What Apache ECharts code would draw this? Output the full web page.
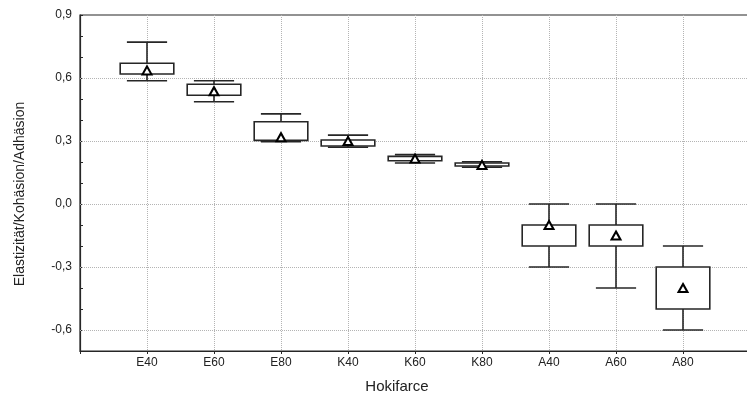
<!DOCTYPE html>
<html>
<head>
<meta charset="utf-8">
<script src="https://cdn.jsdelivr.net/npm/echarts@6/dist/echarts.min.js"></script>
<style>
  html, body { margin: 0; padding: 0; background: #fff; }
  #chart { width: 747px; height: 399px; }
</style>
</head>
<body>
<div id="chart"></div>
<script>
// groups on the x axis
const categories = ['E40', 'E60', 'E80', 'K40', 'K60', 'K80', 'A40', 'A60', 'A80'];
// box plot values
const whiskerLow  = [0.587, 0.487, 0.297, 0.270, 0.195, 0.175, -0.30, -0.40, -0.60];
const boxLow      = [0.619, 0.518, 0.303, 0.276, 0.206, 0.181, -0.20, -0.20, -0.50];
const boxHigh     = [0.670, 0.570, 0.392, 0.305, 0.227, 0.195, -0.10, -0.10, -0.30];
const whiskerHigh = [0.771, 0.587, 0.429, 0.328, 0.235, 0.201, 0.00, 0.00, -0.20];
const means       = [0.636, 0.537, 0.318, 0.300, 0.216, 0.186, -0.10, -0.15, -0.40];
// labelled y ticks
const yTicks = [-0.6, -0.3, 0.0, 0.3, 0.6, 0.9];

let lineColor = '#262626';
let gridColor = '#b4b4b4';

let chart = echarts.init(document.getElementById('chart'));

function fmt(v) {
    let r = Math.round(v * 10) / 10;
    if (r === 0) r = 0;
    return r.toFixed(1).replace('.', ',');
}

function renderBox(params, api) {
    let x = api.value(0);
    let lo = api.coord([x, api.value(1)]);
    let q1 = api.coord([x, api.value(2)]);
    let q3 = api.coord([x, api.value(3)]);
    let hi = api.coord([x, api.value(4)]);
    let band = api.size([1, 0])[0];
    let bw = band * 0.8;
    let cw = band * 0.6;
    let cx = lo[0];
    let st = {stroke: lineColor, lineWidth: 1.6, fill: null};
    return {
        type: 'group',
        children: [
            {type: 'line', shape: {x1: cx, y1: q1[1], x2: cx, y2: lo[1]}, style: st},
            {type: 'line', shape: {x1: cx, y1: q3[1], x2: cx, y2: hi[1]}, style: st},
            {type: 'line', shape: {x1: cx - cw / 2, y1: lo[1], x2: cx + cw / 2, y2: lo[1]}, style: st},
            {type: 'line', shape: {x1: cx - cw / 2, y1: hi[1], x2: cx + cw / 2, y2: hi[1]}, style: st},
            {type: 'rect', shape: {x: cx - bw / 2, y: q3[1], width: bw, height: q1[1] - q3[1]},
                style: {stroke: lineColor, lineWidth: 1.6, fill: '#fff'}}
        ]
    };
}

let boxData = categories.map(function (c, k) {
    return [k + 1, whiskerLow[k], boxLow[k], boxHigh[k], whiskerHigh[k]];
});
let meanData = means.map(function (m, k) {
    return [k + 1, m];
});

let option = {
    animation: false,
    grid: {
        left: 80,
        top: 15,
        width: 670,
        bottom: 48,
        outerBoundsMode: 'none',
        show: true,
        borderColor: lineColor,
        borderWidth: 1.2,
        backgroundColor: 'transparent'
    },
    xAxis: {
        type: 'value',
        min: 0,
        max: 10,
        interval: 1,
        name: 'Hokifarce',
        nameLocation: 'middle',
        nameGap: 28,
        nameTextStyle: {
            fontFamily: 'Liberation Sans',
            fontSize: 15,
            color: '#222',
            padding: [0, 36, 0, 0]
        },
        axisLine: {onZero: false, lineStyle: {color: lineColor, width: 1.2}},
        axisTick: {show: true, length: 3, lineStyle: {color: lineColor}},
        axisLabel: {
            margin: 6,
            fontFamily: 'Liberation Sans',
            fontSize: 12,
            color: '#222',
            formatter: function (v) {
                return categories[v - 1] || '';
            }
        },
        splitLine: {show: true, lineStyle: {color: gridColor, type: 'dotted', width: 1}}
    },
    yAxis: {
        type: 'value',
        min: -0.7,
        max: 0.9,
        interval: 0.1,
        name: 'Elastizität/Kohäsion/Adhäsion',
        nameLocation: 'middle',
        nameGap: 53,
        nameTextStyle: {
            fontFamily: 'Liberation Sans',
            fontSize: 14,
            color: '#222',
            padding: [0, 22, 0, 0]
        },
        axisLine: {show: true, onZero: false, lineStyle: {color: lineColor, width: 1.2}},
        axisTick: {show: true, inside: true, length: 3, lineStyle: {color: lineColor}},
        axisLabel: {
            margin: 8,
            fontFamily: 'Liberation Sans',
            fontSize: 12,
            color: '#222',
            formatter: function (v) {
                let r = Math.round(v * 10);
                return r % 3 === 0 ? fmt(v) : '';
            }
        },
        splitLine: {show: false}
    },
    series: [
        {
            type: 'custom',
            z: 3,
            renderItem: renderBox,
            encode: {x: 0, y: [1, 2, 3, 4]},
            data: boxData
        },
        {
            type: 'scatter',
            z: 4,
            symbol: 'triangle',
            symbolSize: [9, 8],
            itemStyle: {color: '#fff', borderColor: '#000', borderWidth: 2, opacity: 1},
            data: meanData,
            markLine: {
                silent: true,
                z: 1,
                symbol: 'none',
                label: {show: false},
                lineStyle: {color: gridColor, type: 'dotted', width: 1},
                data: yTicks.filter(function (v) { return v < 0.9; }).map(function (v) {
                    return {yAxis: v};
                })
            }
        }
    ]
};

chart.setOption(option);
</script>
</body>
</html>
